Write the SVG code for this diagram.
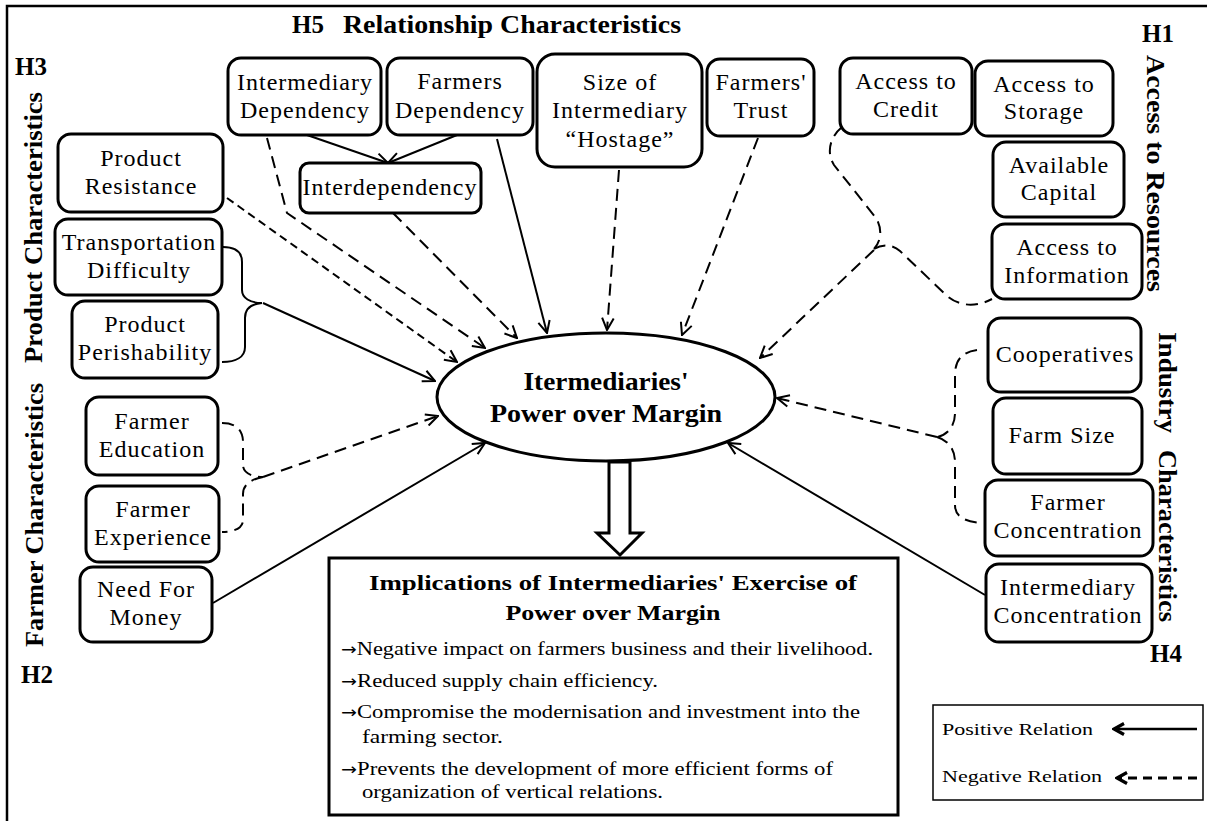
<svg xmlns="http://www.w3.org/2000/svg" width="1207" height="821" viewBox="0 0 1207 821">
<style>
.box{fill:#fff;stroke:#000;stroke-width:3}
.lbl{font-family:'Liberation Serif','Times New Roman',serif;font-size:24px;letter-spacing:1px;text-anchor:middle;fill:#000}
.hd{font-family:'Liberation Serif','Times New Roman',serif;font-size:25px;font-weight:bold;fill:#000}
.bt{font-family:'Liberation Serif','Times New Roman',serif;font-size:19px;fill:#000}
.ar{font-family:'DejaVu Sans',sans-serif;font-size:16px}
.lg{font-family:'Liberation Serif','Times New Roman',serif;font-size:17px;fill:#000}
.solid{fill:none;stroke:#000;stroke-width:2}
.dash{fill:none;stroke:#000;stroke-width:2;stroke-dasharray:12 7}
.sdash{fill:none;stroke:#000;stroke-width:2;stroke-dasharray:8 5}
.arr{marker-end:url(#ah)}
</style>
<defs>
<marker id="ah" viewBox="0 0 14 14" refX="13" refY="7" markerWidth="14" markerHeight="14" markerUnits="userSpaceOnUse" orient="auto">
<path d="M1,1.2 L13,7 L1,12.8" fill="none" stroke="#000" stroke-width="2" stroke-dasharray="none"/>
</marker>
<marker id="ahb" viewBox="0 0 14 14" refX="12" refY="7" markerWidth="14" markerHeight="14" markerUnits="userSpaceOnUse" orient="auto">
<path d="M2,1.5 L12,7 L2,12.5" fill="none" stroke="#000" stroke-width="3.2" stroke-dasharray="none"/>
</marker>
</defs>
<rect width="1207" height="821" fill="#fff"/>
<g id="frame"><path d="M7,821 L7,6 L1207,6" fill="none" stroke="#000" stroke-width="2.5"/></g>

<g id="headings">
<text class="hd" x="292" y="33">H5</text>
<text class="hd" x="343" y="33" textLength="338" lengthAdjust="spacingAndGlyphs">Relationship Characteristics</text>
<text class="hd" x="15" y="75">H3</text>
<text class="hd" x="21" y="683">H2</text>
<text class="hd" x="1142" y="42">H1</text>
<text class="hd" x="1150" y="662">H4</text>
<text class="hd" x="42" y="363" transform="rotate(-90 42 363)" textLength="271" lengthAdjust="spacingAndGlyphs">Product Characteristics</text>
<text class="hd" x="43" y="647" transform="rotate(-90 43 647)" textLength="264" lengthAdjust="spacingAndGlyphs">Farmer Characteristics</text>
<text class="hd" x="1147" y="55" transform="rotate(90 1147 55)" textLength="237" lengthAdjust="spacingAndGlyphs">Access to Resources</text>
<text class="hd" x="1159" y="332" transform="rotate(90 1159 332)" textLength="101" lengthAdjust="spacingAndGlyphs">Industry</text>
<text class="hd" x="1159" y="450" transform="rotate(90 1159 450)" textLength="172" lengthAdjust="spacingAndGlyphs">Characteristics</text>
</g>

<g id="connectors">
<path class="solid arr" d="M307,135 L388,163"/>
<path class="solid arr" d="M457,135 L388,163"/>
<path class="dash arr" d="M267,138 L287,213 L485,348"/>
<path class="sdash arr" d="M227,198 L457,362"/>
<path class="dash arr" d="M393,213 L517,338"/>
<path class="solid arr" d="M497,139 L547,333"/>
<path class="dash arr" d="M619,170 L607,330"/>
<path class="dash arr" d="M758,138 L682,335"/>
<path class="dash" d="M842,127 C830,137 826,152 834,165 L876,218 C882,228 882,240 874,249 M874,249 C882,244 892,244 900,251 L946,295 C958,306 975,308 992,299"/>
<path class="dash arr" d="M874,250 L760,358"/>
<path class="solid" d="M223,247 C236,247 242,252 242,262 L242,290 C242,298 250,303 262,303 M262,303 C250,304 245,309 245,318 L245,347 C245,357 236,362 222,362"/>
<path class="solid arr" d="M263,303 L435,381"/>
<path class="dash" d="M222,423 C236,423 243,430 243,442 L243,465 C243,473 252,477 263,477 M263,477 C252,479 243,484 243,494 L243,520 C243,528 234,532 222,532"/>
<path class="dash arr" d="M263,477 L438,416"/>
<path class="solid arr" d="M213,603 L485,443"/>
<path class="dash" d="M977,350 C962,352 955,360 955,375 L955,413 C955,427 947,435 937,437 M937,437 C947,440 955,448 955,462 L955,505 C955,517 965,522 983,523"/>
<path class="dash arr" d="M937,437 L777,398"/>
<path class="solid arr" d="M985,595 L728,443"/>
</g>

<g id="n-int-dep"><rect class="box" x="228" y="58" width="153" height="77" rx="13"/><text class="lbl" x="305" y="90">Intermediary</text><text class="lbl" x="305" y="118">Dependency</text></g>
<g id="n-farm-dep"><rect class="box" x="387" y="58" width="146" height="77" rx="13"/><text class="lbl" x="460" y="89">Farmers</text><text class="lbl" x="460" y="118">Dependency</text></g>
<g id="n-hostage"><rect class="box" x="537" y="54" width="165" height="113" rx="18"/><text class="lbl" x="620" y="90">Size of</text><text class="lbl" x="620" y="118">Intermediary</text><text class="lbl" x="620" y="147">“Hostage”</text></g>
<g id="n-trust"><rect class="box" x="707" y="59" width="107" height="77" rx="13"/><text class="lbl" x="761" y="90">Farmers'</text><text class="lbl" x="761" y="118">Trust</text></g>
<g id="n-credit"><rect class="box" x="840" y="58" width="132" height="76" rx="13"/><text class="lbl" x="906" y="89">Access to</text><text class="lbl" x="906" y="117">Credit</text></g>
<g id="n-storage"><rect class="box" x="975" y="61" width="138" height="75" rx="13"/><text class="lbl" x="1044" y="92">Access to</text><text class="lbl" x="1044" y="119">Storage</text></g>
<g id="n-capital"><rect class="box" x="993" y="142" width="131" height="75" rx="13"/><text class="lbl" x="1059" y="173">Available</text><text class="lbl" x="1059" y="200">Capital</text></g>
<g id="n-info"><rect class="box" x="992" y="224" width="150" height="75" rx="13"/><text class="lbl" x="1067" y="255">Access to</text><text class="lbl" x="1067" y="283">Information</text></g>
<g id="n-resist"><rect class="box" x="58" y="134" width="165" height="78" rx="13"/><text class="lbl" x="141" y="166">Product</text><text class="lbl" x="141" y="194">Resistance</text></g>
<g id="n-transport"><rect class="box" x="55" y="219" width="167" height="76" rx="13"/><text class="lbl" x="139" y="250">Transportation</text><text class="lbl" x="139" y="278">Difficulty</text></g>
<g id="n-interdep"><rect class="box" x="300" y="163" width="181" height="50" rx="9"/><text class="lbl" x="390" y="195">Interdependency</text></g>
<g id="n-perish"><rect class="box" x="72" y="301" width="146" height="77" rx="13"/><text class="lbl" x="145" y="332">Product</text><text class="lbl" x="145" y="360">Perishability</text></g>
<g id="n-edu"><rect class="box" x="86" y="397" width="132" height="78" rx="13"/><text class="lbl" x="152" y="429">Farmer</text><text class="lbl" x="152" y="457">Education</text></g>
<g id="n-exp"><rect class="box" x="86" y="486" width="133" height="76" rx="13"/><text class="lbl" x="153" y="517">Farmer</text><text class="lbl" x="153" y="545">Experience</text></g>
<g id="n-money"><rect class="box" x="80" y="567" width="132" height="75" rx="13"/><text class="lbl" x="146" y="597">Need For</text><text class="lbl" x="146" y="625">Money</text></g>
<g id="n-coop"><rect class="box" x="988" y="318" width="153" height="74" rx="13"/><text class="lbl" x="1065" y="362">Cooperatives</text></g>
<g id="n-farmsize"><rect class="box" x="993" y="398" width="149" height="76" rx="13"/><text class="lbl" x="1062" y="443">Farm Size</text></g>
<g id="n-farmconc"><rect class="box" x="985" y="480" width="168" height="76" rx="13"/><text class="lbl" x="1068" y="510">Farmer</text><text class="lbl" x="1068" y="538">Concentration</text></g>
<g id="n-intconc"><rect class="box" x="986" y="564" width="166" height="78" rx="13"/><text class="lbl" x="1068" y="595">Intermediary</text><text class="lbl" x="1068" y="623">Concentration</text></g>

<g id="n-center">
<ellipse cx="606" cy="397" rx="169" ry="64" fill="#fff" stroke="#000" stroke-width="3"/>
<text class="hd" x="606" y="390" text-anchor="middle" textLength="165" lengthAdjust="spacingAndGlyphs">Itermediaries'</text>
<text class="hd" x="606" y="422" text-anchor="middle" textLength="232" lengthAdjust="spacingAndGlyphs">Power over Margin</text>
</g>

<g id="big-arrow"><path d="M609,462 L630,462 L630,533 L642,533 L620,555 L597,533 L609,533 Z" fill="#fff" stroke="#000" stroke-width="3" stroke-linejoin="miter"/></g>

<g id="n-implications">
<rect x="329" y="558" width="569" height="257" fill="#fff" stroke="#000" stroke-width="3"/>
<text class="hd" x="613" y="590" text-anchor="middle" textLength="488" lengthAdjust="spacingAndGlyphs" style="font-size:21px">Implications of Intermediaries' Exercise of</text>
<text class="hd" x="613" y="620" text-anchor="middle" textLength="215" lengthAdjust="spacingAndGlyphs" style="font-size:21px">Power over Margin</text>
<text class="bt" x="341" y="655" textLength="532" lengthAdjust="spacingAndGlyphs"><tspan class="ar">→</tspan>Negative impact on farmers business and their livelihood.</text>
<text class="bt" x="341" y="687" textLength="317" lengthAdjust="spacingAndGlyphs"><tspan class="ar">→</tspan>Reduced supply chain efficiency.</text>
<text class="bt" x="341" y="718" textLength="519" lengthAdjust="spacingAndGlyphs"><tspan class="ar">→</tspan>Compromise the modernisation and investment into the</text>
<text class="bt" x="362" y="743" textLength="141" lengthAdjust="spacingAndGlyphs">farming sector.</text>
<text class="bt" x="341" y="775" textLength="492" lengthAdjust="spacingAndGlyphs"><tspan class="ar">→</tspan>Prevents the development of more efficient forms of</text>
<text class="bt" x="362" y="798" textLength="301" lengthAdjust="spacingAndGlyphs">organization of vertical relations.</text>
</g>

<g id="legend">
<rect x="933" y="705" width="270" height="95" fill="#fff" stroke="#000" stroke-width="1.5"/>
<text class="lg" x="942" y="735" textLength="151" lengthAdjust="spacingAndGlyphs">Positive Relation</text>
<text class="lg" x="942" y="782" textLength="160" lengthAdjust="spacingAndGlyphs">Negative Relation</text>
<path d="M1197,729 L1114,729" fill="none" stroke="#000" stroke-width="2.5" marker-end="url(#ahb)"/>
<path d="M1197,778 L1117,778" fill="none" stroke="#000" stroke-width="3" stroke-dasharray="9 6" marker-end="url(#ahb)"/>
</g>
</svg>
